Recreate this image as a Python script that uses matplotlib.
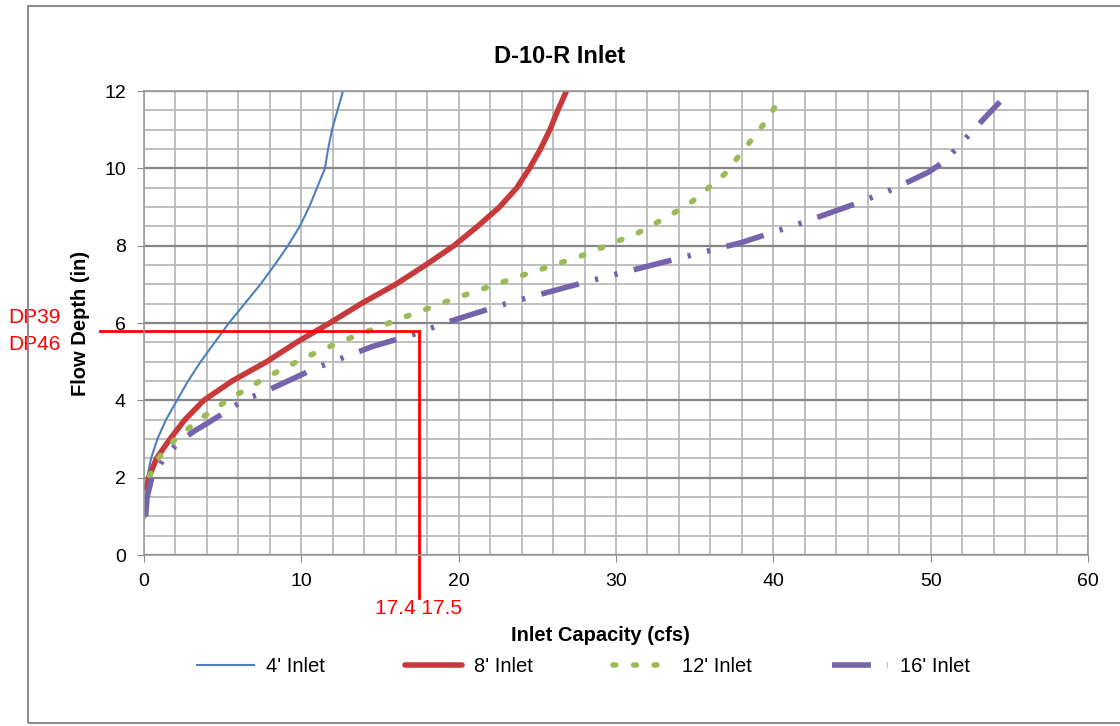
import matplotlib.pyplot as plt
from matplotlib.patches import Rectangle
from matplotlib.ticker import MultipleLocator

plt.rcParams['font.family'] = ['Liberation Sans Narrow', 'Liberation Sans', 'DejaVu Sans']

# (capacity cfs, depth in)
q4 = [0, 0.05, 0.2, 0.45, 0.85, 1.4, 2.1, 2.8, 3.6, 4.5, 5.4, 6.4, 7.4, 8.3, 9.15, 9.9, 10.5, 11.0, 11.5, 11.7, 11.95, 12.3, 12.65]
d4 = [1, 1.5, 2, 2.5, 3, 3.5, 4, 4.5, 5, 5.5, 6, 6.5, 7, 7.5, 8, 8.5, 9, 9.5, 10, 10.5, 11, 11.5, 12]

q8 = [0, 0.05, 0.3, 0.8, 1.65, 2.6, 3.8, 5.6, 7.8, 9.7, 11.8, 13.8, 16.0, 17.9, 19.7, 21.2, 22.6, 23.7, 24.5, 25.2, 25.8, 26.3, 26.85]
d8 = [1, 1.5, 2, 2.5, 3, 3.5, 4, 4.5, 5, 5.5, 6, 6.5, 7, 7.5, 8, 8.5, 9, 9.5, 10, 10.5, 11, 11.5, 12]

q12 = [0, 0.05, 0.3, 0.9, 2.0, 3.5, 5.3, 7.8, 10.2, 12.4, 16.2, 20.0, 23.8, 27.7, 31.4, 33.5, 34.9, 36.9, 38.6, 39.5, 40.2]
d12 = [1, 1.5, 2, 2.5, 3, 3.5, 4, 4.6, 5.1, 5.5, 6.1, 6.67, 7.2, 7.72, 8.33, 8.8, 9.16, 9.85, 10.73, 11.2, 11.65]

q16 = [0.1, 0.2, 0.5, 1.2, 2.07, 3.1, 5.2, 6.3, 7.6, 10.95, 14.5, 17.1, 19.5, 23.0, 26.8, 29.2, 33.0, 37.97, 41.6, 45.2, 47.6, 49.9, 50.9, 52.66, 54.4]
d16 = [1.0, 1.5, 2.0, 2.45, 2.86, 3.18, 3.7, 4.0, 4.21, 4.84, 5.39, 5.7, 6.05, 6.5, 6.92, 7.18, 7.57, 8.08, 8.56, 9.08, 9.46, 9.91, 10.19, 10.97, 11.72]

dp_depth = 5.8
dp_flow = 17.45

fig = plt.figure(figsize=(11.2, 7.26), dpi=100)
fig.patches.append(Rectangle((28 / 1120, 3 / 726), 1.1, 717 / 726, transform=fig.transFigure,
                             fill=False, edgecolor='#8c8c8c', linewidth=1.5))
ax = fig.add_axes([144 / 1120, 1 - 555 / 726, (1088 - 144) / 1120, (555 - 91) / 726])

ax.plot(q4, d4, color='#4F7FC0', lw=1.5, label="4' Inlet")
ax.plot(q8, d8, color='#C8393B', lw=4, solid_capstyle='round', label="8' Inlet")
ax.plot(q12, d12, color='#9BBB59', lw=4, linestyle=(0, (0.5, 3.2)), dash_capstyle='round', label="12' Inlet")
ax.plot(q16, d16, color='#7563AE', lw=4, linestyle=(0, (7, 3, 0.6, 3, 0.6, 3)), label="16' Inlet")

ax.set_xlim(0, 60)
ax.set_ylim(0, 12)
ax.xaxis.set_major_locator(MultipleLocator(10))
ax.xaxis.set_minor_locator(MultipleLocator(2))
ax.yaxis.set_major_locator(MultipleLocator(2))
ax.yaxis.set_minor_locator(MultipleLocator(0.5))
ax.grid(which='minor', color='#b4b4b4', lw=1.2)
ax.grid(which='major', axis='y', color='#868686', lw=1.6)
ax.grid(which='major', axis='x', color='#b4b4b4', lw=1.2)
ax.set_axisbelow(True)
for s in ax.spines.values():
    s.set_color('#9a9a9a')
    s.set_linewidth(1.2)
ax.tick_params(which='major', length=5, color='#8a8a8a', labelsize=14, pad=8)
ax.tick_params(which='minor', length=0)

ax.set_title('D-10-R Inlet', fontsize=17, fontweight='bold', x=0.44, pad=20)
ax.set_xlabel('Inlet Capacity (cfs)', fontsize=14.5, fontweight='bold')
ax.xaxis.set_label_coords(0.484, -0.153)
ax.set_ylabel('Flow Depth (in)', fontsize=14.5, fontweight='bold', labelpad=10)

# design point markers
ax.plot([-2.8, dp_flow], [dp_depth, dp_depth], color='red', lw=2, clip_on=False)
ax.plot([dp_flow, dp_flow], [dp_depth, -1.1], color='red', lw=2, clip_on=False)
ax.text(-8.6, 5.9, 'DP39', color='red', fontsize=15, family=['Liberation Sans', 'DejaVu Sans'],
        ha='left', va='bottom')
ax.text(-8.6, 5.7, 'DP46', color='red', fontsize=15, family=['Liberation Sans', 'DejaVu Sans'],
        ha='left', va='top')
ax.text(dp_flow, -1.15, '17.4 17.5', color='red', fontsize=15, family=['Liberation Sans', 'DejaVu Sans'],
        ha='center', va='top')

ax.legend(loc='center', bbox_to_anchor=(0.466, -0.24), ncol=4, frameon=False,
          fontsize=14.5, handlelength=2.8, columnspacing=4.0, handletextpad=0.6)

fig.savefig('out.png', dpi=100)
